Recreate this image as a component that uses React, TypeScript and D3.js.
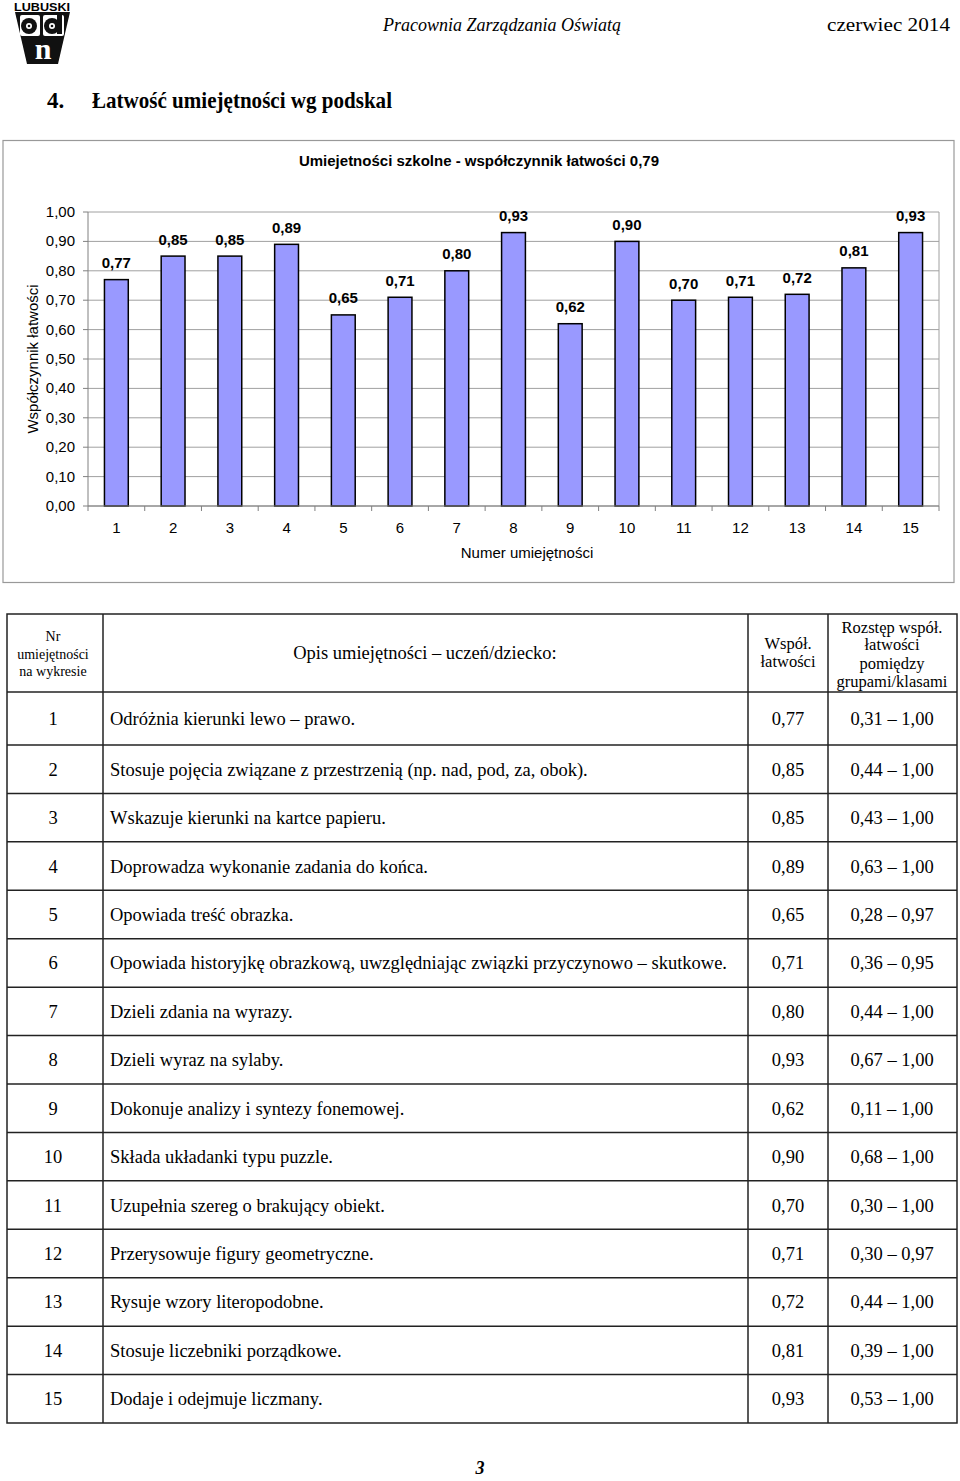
import React from "react";
import * as d3 from "d3";

const categories = ["1","2","3","4","5","6","7","8","9","10","11","12","13","14","15"];
const values = [0.77,0.85,0.85,0.89,0.65,0.71,0.80,0.93,0.62,0.90,0.70,0.71,0.72,0.81,0.93];
const yTicks = [0,0.1,0.2,0.3,0.4,0.5,0.6,0.7,0.8,0.9,1.0];
const descriptions = [
  "Odróżnia kierunki lewo – prawo.",
  "Stosuje pojęcia związane z przestrzenią (np. nad, pod, za, obok).",
  "Wskazuje kierunki na kartce papieru.",
  "Doprowadza wykonanie zadania do końca.",
  "Opowiada treść obrazka.",
  "Opowiada historyjkę obrazkową, uwzględniając związki przyczynowo – skutkowe.",
  "Dzieli zdania na wyrazy.",
  "Dzieli wyraz na sylaby.",
  "Dokonuje analizy i syntezy fonemowej.",
  "Składa układanki typu puzzle.",
  "Uzupełnia szereg o brakujący obiekt.",
  "Przerysowuje figury geometryczne.",
  "Rysuje wzory literopodobne.",
  "Stosuje liczebniki porządkowe.",
  "Dodaje i odejmuje liczmany.",
];
const ranges = [
  "0,31 – 1,00","0,44 – 1,00","0,43 – 1,00","0,63 – 1,00","0,28 – 0,97",
  "0,36 – 0,95","0,44 – 1,00","0,67 – 1,00","0,11 – 1,00","0,68 – 1,00",
  "0,30 – 1,00","0,30 – 0,97","0,44 – 1,00","0,39 – 1,00","0,53 – 1,00",
];
const chartTitle = "Umiejetności szkolne - współczynnik łatwości 0,79";
const yTitle = "Współczynnik łatwości";
const xTitle = "Numer umiejętności";

const fmt = (v: number) => d3.format(".2f")(v).replace(".", ",");

const SANS = "'Liberation Sans', Arial, sans-serif";
const SERIF = "'Liberation Serif', 'Times New Roman', serif";

export default function App() {
  const W = 960, H = 1481;
  const plot = { left: 88, right: 939, top: 212, bottom: 506 };
  const x = d3.scaleBand<string>().domain(categories).range([plot.left, plot.right]).paddingInner(0.58).paddingOuter(0.29);
  const y = d3.scaleLinear().domain([0, 1]).range([plot.bottom, plot.top]);
  const step = x.step();
  const catEdges = d3.range(categories.length + 1).map((i) => plot.left + i * step);

  // table geometry
  const cols = [7, 103, 748, 828, 957];
  const tableTop = 614, headerBottom = 692, row1Bottom = 745, tableBottom = 1423;
  const rowStep = (tableBottom - row1Bottom) / (categories.length - 1);
  const rowEdges = [headerBottom, ...d3.range(categories.length).map((i) => row1Bottom + i * rowStep)];

  return (
    <svg width={W} height={H} style={{ position: "absolute", left: 0, top: 0, background: "#fff" }}>
      <rect x={0} y={0} width={W} height={H} fill="#fff" />
      {/* Logo */}
      <g>
        <text x={42} y={11} fontFamily={SANS} fontWeight="bold" fontSize={11} textAnchor="middle" textLength={56} lengthAdjust="spacingAndGlyphs" fill="#000">LUBUSKI</text>
        <path d="M15,12 L70,12 L58,64 L27,64 Z" fill="#111" />
        <rect x={20} y={15} width={20} height={21} rx={2} fill="#fff" />
        <rect x={43} y={15} width={21} height={21} rx={2} fill="#fff" />
        <circle cx={29} cy={26} r={8} fill="#111" />
        <circle cx={29} cy={26} r={3} fill="#fff" />
        <circle cx={29} cy={26} r={1.3} fill="#111" />
        <circle cx={52} cy={26} r={8} fill="#111" />
        <rect x={57} y={15} width={5} height={19} fill="#111" />
        <circle cx={52} cy={26} r={3} fill="#fff" />
        <circle cx={52} cy={26} r={1.3} fill="#111" />
        <text x={43} y={59} fontFamily={SERIF} fontWeight="bold" fontSize={30} textAnchor="middle" fill="#fff">n</text>
      </g>
      {/* Page header */}
      <text x={502} y={31} fontFamily={SERIF} fontStyle="italic" fontSize={18} textAnchor="middle" fill="#000">Pracownia Zarządzania Oświatą</text>
      <text x={950} y={31} fontFamily={SERIF} fontSize={19} textAnchor="end" textLength={123} lengthAdjust="spacingAndGlyphs" fill="#000">czerwiec 2014</text>
      <text x={47} y={108} fontFamily={SERIF} fontWeight="bold" fontSize={23} fill="#000">4.</text>
      <text x={92} y={108} fontFamily={SERIF} fontWeight="bold" fontSize={23} textLength={300} lengthAdjust="spacingAndGlyphs" fill="#000">Łatwość umiejętności wg podskal</text>

      {/* Chart frame */}
      <rect x={3} y={140.5} width={951} height={442} fill="#fff" stroke="#999" strokeWidth={1.2} />
      <text x={479} y={166} fontFamily={SANS} fontWeight="bold" fontSize={15} textAnchor="middle" fill="#000">{chartTitle}</text>

      {/* gridlines */}
      {yTicks.map((t) => (
        <line key={"g" + t} x1={plot.left} x2={plot.right} y1={y(t)} y2={y(t)} stroke="#a0a0a0" strokeWidth={1} />
      ))}
      <line x1={plot.right} x2={plot.right} y1={plot.top} y2={plot.bottom} stroke="#a0a0a0" strokeWidth={1} />
      {/* y axis */}
      <line x1={plot.left} x2={plot.left} y1={plot.top} y2={plot.bottom} stroke="#808080" strokeWidth={1} />
      {yTicks.map((t) => (
        <g key={"yt" + t}>
          <line x1={plot.left - 5} x2={plot.left} y1={y(t)} y2={y(t)} stroke="#808080" />
          <text x={75} y={y(t) + 5} fontFamily={SANS} fontSize={15} textAnchor="end" fill="#000">{fmt(t)}</text>
        </g>
      ))}
      <text transform={`translate(38,${(plot.top + plot.bottom) / 2}) rotate(-90)`} fontFamily={SANS} fontSize={15} textAnchor="middle" fill="#000">{yTitle}</text>

      {/* bars */}
      {categories.map((c, i) => (
        <g key={"b" + c}>
          <rect x={x(c)} y={y(values[i])} width={x.bandwidth()} height={plot.bottom - y(values[i])} fill="#9999ff" stroke="#000" strokeWidth={1.5} />
          <text x={(x(c) as number) + x.bandwidth() / 2} y={y(values[i]) - 11.5} fontFamily={SANS} fontWeight="bold" fontSize={15} textAnchor="middle" fill="#000">{fmt(values[i])}</text>
        </g>
      ))}

      {/* x axis */}
      <line x1={plot.left} x2={plot.right} y1={plot.bottom} y2={plot.bottom} stroke="#808080" strokeWidth={1} />
      {catEdges.map((e, i) => (
        <line key={"xt" + i} x1={e} x2={e} y1={plot.bottom} y2={plot.bottom + 5} stroke="#808080" />
      ))}
      {categories.map((c) => (
        <text key={"xl" + c} x={(x(c) as number) + x.bandwidth() / 2} y={533} fontFamily={SANS} fontSize={15} textAnchor="middle" fill="#000">{c}</text>
      ))}
      <text x={527} y={558} fontFamily={SANS} fontSize={15} textAnchor="middle" fill="#000">{xTitle}</text>

      {/* Table */}
      <g fontFamily={SERIF} fill="#000">
        <text textAnchor="middle" fontSize={14}>
          <tspan x={53} y={641}>Nr</tspan>
          <tspan x={53} y={659}>umiejętności</tspan>
          <tspan x={53} y={676}>na wykresie</tspan>
        </text>
        <text x={425} y={659} textAnchor="middle" fontSize={18.5}>Opis umiejętności – uczeń/dziecko:</text>
        <text textAnchor="middle" fontSize={16.5}>
          <tspan x={788} y={649}>Współ.</tspan>
          <tspan x={788} y={667}>łatwości</tspan>
        </text>
        <text textAnchor="middle" fontSize={16.5}>
          <tspan x={892} y={633}>Rozstęp współ.</tspan>
          <tspan x={892} y={650}>łatwości</tspan>
          <tspan x={892} y={669}>pomiędzy</tspan>
          <tspan x={892} y={687}>grupami/klasami</tspan>
        </text>
        {categories.map((c, i) => {
          const cy = (rowEdges[i] + rowEdges[i + 1]) / 2 + 6.5;
          return (
            <g key={"r" + c} fontSize={18.5}>
              <text x={53} y={cy} textAnchor="middle">{c}</text>
              <text x={110} y={cy}>{descriptions[i]}</text>
              <text x={788} y={cy} textAnchor="middle">{fmt(values[i])}</text>
              <text x={892} y={cy} textAnchor="middle">{ranges[i]}</text>
            </g>
          );
        })}
      </g>
      <g stroke="#222" strokeWidth={1.5} fill="none">
        <rect x={cols[0]} y={tableTop} width={cols[4] - cols[0]} height={tableBottom - tableTop} />
        {cols.slice(1, 4).map((cx) => (
          <line key={"c" + cx} x1={cx} x2={cx} y1={tableTop} y2={tableBottom} />
        ))}
        {rowEdges.slice(0, -1).map((ry, i) => (
          <line key={"re" + i} x1={cols[0]} x2={cols[4]} y1={ry} y2={ry} />
        ))}
      </g>

      <text x={480} y={1474} fontFamily={SERIF} fontWeight="bold" fontStyle="italic" fontSize={18} textAnchor="middle" fill="#000">3</text>
    </svg>
  );
}
